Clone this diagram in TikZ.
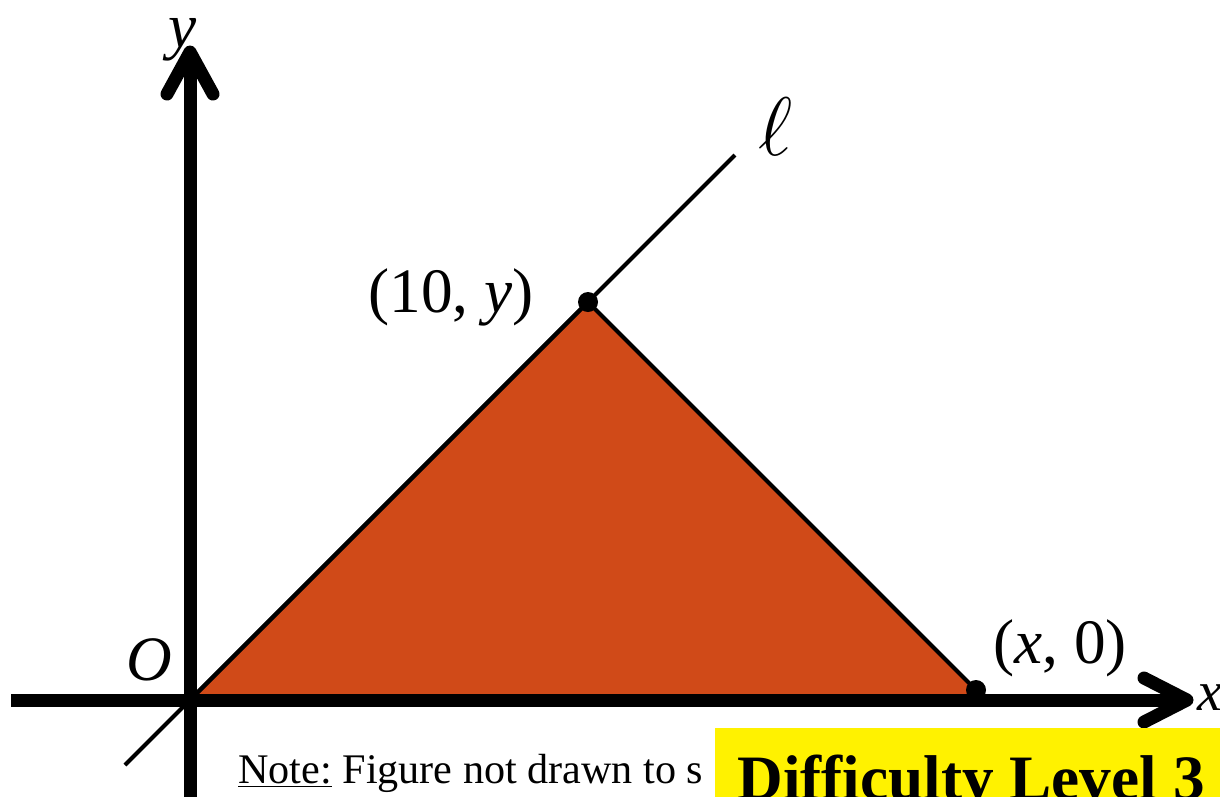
\documentclass[tikz,border=0pt]{standalone}
\usepackage{fontspec}
\setmainfont{Liberation Serif}
\usepackage{xcolor}
\usetikzlibrary{calc}
\definecolor{triFill}{RGB}{208,74,24}

\begin{document}
\begin{tikzpicture}[
  x=0.02cm, y=-0.02cm,
  % axes
  axis/.style={line width=7.4pt},
  axHead/.style={line width=7.4pt, line cap=round, line join=round},
  % line l and triangle
  ellLine/.style={line width=2.3pt},
  tri/.style={draw=black, line width=2.3pt, line join=round, fill=triFill},
  ptDot/.style={circle, fill=black, inner sep=0pt, minimum size=0.4cm},
  % labels
  lbl/.style={inner sep=0pt, font=\fontsize{36}{42}\selectfont},
  noteTxt/.style={inner sep=0pt, font=\fontsize{24}{28}\selectfont},
  levelBox/.style={fill=yellow},
  levelTxt/.style={inner sep=0pt, font=\fontsize{36}{42}\selectfont\bfseries},
]

\clip (0,0) rectangle (1220,796);

% ── Key points ───────────────────────────────────────────────────────────
\coordinate (O)  at (190,700);
\coordinate (xL) at (11,700);
\coordinate (xT) at (1187,700);
\coordinate (yB) at (190,810);
\coordinate (yT) at (190,52);
\coordinate (lA) at (125,765);
\coordinate (lB) at (735,155);
\coordinate (P)  at (588,302);
\coordinate (Q)  at (976,690);

% ── Triangle and line l ──────────────────────────────────────────────────
\draw[tri] (O) -- (P) -- (Q) -- (Q |- O) -- cycle;
\draw[ellLine] (lA) -- (lB);

% ── Axes ─────────────────────────────────────────────────────────────────
\draw[axis] (xL) -- (xT);
\draw[axHead] (1144,678) -- (xT) -- (1144,722);
\draw[axis] (yB) -- (yT);
\draw[axHead] (167,94) -- (yT) -- (213,94);

% ── Points ───────────────────────────────────────────────────────────────
\node[ptDot] (dotP) at (P) {};
\node[ptDot] (dotQ) at (Q) {};

% ── Labels ───────────────────────────────────────────────────────────────
\node[lbl, anchor=base west] (lblP) at (368,312) {(10, \textit{y})};
\node[lbl, anchor=base west] (lblQ) at (993,663) {(\textit{x}, 0)};
\node[lbl, anchor=base] (lblO) at (149,680) {\textit{O}};
\node[lbl, anchor=base west, font=\fontsize{32}{36}\selectfont] (lblX) at (1197,710) {\textit{x}};
\node[lbl, anchor=base] (lblY) at (183,47) {\textit{y}};
\node[lbl, anchor=base west, font=\fontsize{24.88}{30}\selectfont] (lblEll) at (758,155)
  {\scalebox{1.9}{$\ell$}};

% ── Note and level tag ───────────────────────────────────────────────────
\node[noteTxt, anchor=base west] (note) at (238,783) {\underline{Note:} Figure not drawn to s};
\path[levelBox] (715,728) rectangle (1225,800);
\node[levelTxt, anchor=base west] (level) at (737,799) {Difficulty Level 3};

\end{tikzpicture}
\end{document}
